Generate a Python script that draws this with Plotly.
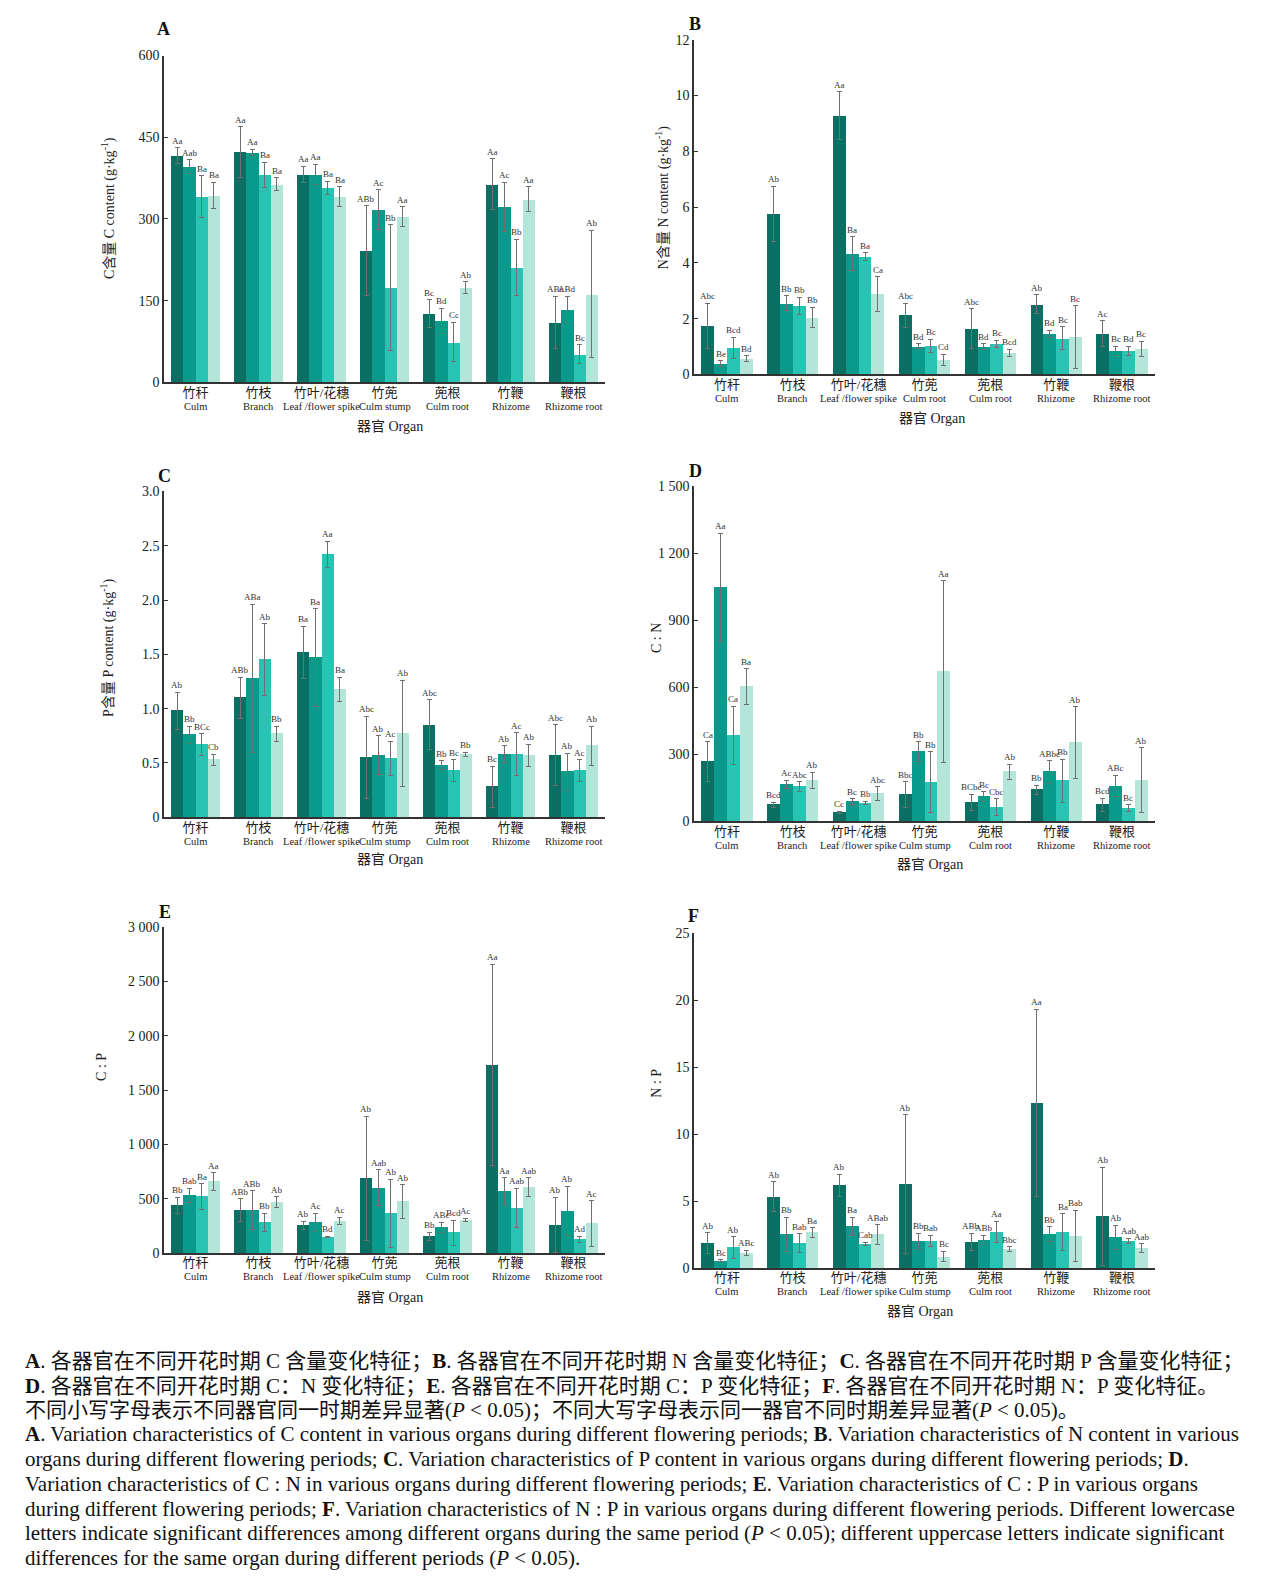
import plotly.graph_objects as go

W, H = 1262, 1588

organs_cn = ["竹秆", "竹枝", "竹叶/花穗", "竹蔸", "蔸根", "竹鞭", "鞭根"]
organs_en = ["Culm", "Branch", "Leaf /flower spike", "Culm stump", "Culm root", "Rhizome", "Rhizome root"]
organs_en_b = ["Culm", "Branch", "Leaf /flower spike", "Culm root", "Culm root", "Rhizome", "Rhizome root"]

periods = ["Period 1", "Period 2", "Period 3", "Period 4"]
colors = ["#0b6f64", "#0a9a8b", "#29c3b3", "#b3e6d9"]

# values[organ][period]
c_val = [[416, 396, 341, 343], [423, 422, 381, 364], [382, 382, 357, 341], [242, 317, 174, 304],
         [126, 113, 74, 174], [364, 322, 211, 336], [110, 133, 52, 162]]
c_sd = [[15, 13, 38, 24], [46, 6, 23, 12], [15, 18, 12, 18], [82, 37, 115, 18],
        [26, 23, 36, 11], [47, 45, 52, 23], [48, 25, 17, 117]]
c_lab = [["Aa", "Aab", "Ba", "Ba"], ["Aa", "Aa", "Ba", "Ba"], ["Aa", "Aa", "Ba", "Ba"], ["ABb", "Ac", "Bb", "Aa"],
         ["Bc", "Bd", "Cc", "Ab"], ["Aa", "Ac", "Bb", "Aa"], ["ABc", "ABd", "Bc", "Ab"]]

n_val = [[1.75, 0.39, 0.96, 0.58], [5.75, 2.55, 2.46, 2.05], [9.28, 4.32, 4.23, 2.88], [2.13, 1.01, 1.03, 0.53],
         [1.64, 1.00, 1.10, 0.78], [2.52, 1.45, 1.30, 1.34], [1.46, 0.84, 0.84, 0.92]]
n_sd = [[0.81, 0.10, 0.38, 0.10], [1.00, 0.27, 0.30, 0.36], [0.85, 0.61, 0.13, 0.62], [0.43, 0.09, 0.24, 0.19],
        [0.71, 0.10, 0.12, 0.12], [0.34, 0.13, 0.42, 1.12], [0.47, 0.17, 0.17, 0.28]]
n_lab = [["Abc", "Be", "Bcd", "Bd"], ["Ab", "Bb", "Bb", "Bb"], ["Aa", "Ba", "Ba", "Ca"], ["Abc", "Bd", "Bc", "Cd"],
         ["Abc", "Bd", "Bc", "Bcd"], ["Ab", "Bd", "Bc", "Bc"], ["Ac", "Bc", "Bd", "Bc"]]

p_val = [[0.98, 0.76, 0.67, 0.53], [1.10, 1.28, 1.45, 0.77], [1.52, 1.47, 2.42, 1.18], [0.55, 0.57, 0.54, 0.77],
         [0.85, 0.48, 0.43, 0.58], [0.28, 0.58, 0.58, 0.57], [0.57, 0.42, 0.43, 0.66]]
p_sd = [[0.17, 0.08, 0.10, 0.05], [0.19, 0.68, 0.33, 0.07], [0.24, 0.45, 0.12, 0.11], [0.38, 0.18, 0.16, 0.49],
        [0.23, 0.04, 0.10, 0.02], [0.19, 0.08, 0.20, 0.10], [0.28, 0.17, 0.10, 0.18]]
p_lab = [["Ab", "Bb", "BCc", "Cb"], ["ABb", "ABa", "Ab", "Bb"], ["Ba", "Ba", "Aa", "Ba"], ["Abc", "Ab", "Ac", "Ab"],
         ["Abc", "Bb", "Bc", "Bb"], ["Bc", "Ab", "Ac", "Ab"], ["Abc", "Ab", "Ac", "Ab"]]

cn_val = [[267, 1048, 385, 604], [74, 166, 155, 182], [40, 87, 81, 123], [120, 311, 176, 671],
          [84, 111, 64, 221], [141, 221, 181, 352], [74, 158, 59, 185]]
cn_sd = [[88, 242, 130, 79], [12, 18, 21, 37], [4, 14, 8, 32], [58, 44, 135, 407],
         [36, 22, 37, 35], [20, 50, 96, 162], [30, 49, 14, 145]]
cn_lab = [["Ca", "Aa", "Ca", "Ba"], ["Bcd", "Ac", "Abc", "Ab"], ["Cc", "Bc", "Bb", "Abc"], ["Bbc", "Bb", "Bb", "Aa"],
          ["BCbc", "Bc", "Cbc", "Ab"], ["Bb", "ABbc", "Bb", "Ab"], ["Bcd", "ABc", "Bc", "Ab"]]

cp_val = [[438, 532, 520, 660], [398, 398, 280, 471], [258, 283, 149, 295], [687, 602, 365, 474],
          [155, 237, 188, 304], [1733, 568, 416, 605], [261, 389, 128, 274]]
cp_sd = [[76, 67, 118, 79], [104, 176, 85, 49], [37, 82, 6, 33], [571, 167, 313, 155],
         [36, 46, 116, 15], [927, 125, 183, 88], [253, 228, 27, 209]]
cp_lab = [["Bb", "Bab", "Ba", "Aa"], ["ABb", "ABb", "Bb", "Ab"], ["Ab", "Ac", "Bd", "Ac"], ["Ab", "Aab", "Ab", "Ab"],
          ["Bb", "ABc", "Bcd", "Ac"], ["Aa", "Aa", "Aab", "Aab"], ["Ab", "Ab", "Ad", "Ac"]]

np_val = [[1.85, 0.54, 1.53, 1.13], [5.32, 2.51, 1.85, 2.64], [6.18, 3.10, 1.80, 2.51], [6.28, 1.97, 2.02, 0.84],
          [1.95, 2.09, 2.71, 1.40], [12.32, 2.54, 2.66, 2.39], [3.84, 2.29, 2.02, 1.48]]
np_sd = [[0.79, 0.08, 0.81, 0.20], [1.13, 1.26, 0.71, 0.36], [0.82, 0.67, 0.12, 0.72], [5.17, 0.62, 0.44, 0.39],
         [0.64, 0.37, 0.79, 0.20], [7.01, 0.54, 1.38, 1.92], [3.67, 0.91, 0.20, 0.32]]
np_lab = [["Ab", "Bc", "Ab", "ABc"], ["Ab", "Bb", "Bab", "Ba"], ["Ab", "Ba", "Cab", "ABab"], ["Ab", "Bb", "Bab", "Bc"],
          ["ABb", "ABb", "Aa", "Bbc"], ["Aa", "Bb", "Ba", "Bab"], ["Ab", "Ab", "Aab", "Aab"]]

a_ticks = [0, 150, 300, 450, 600]
b_ticks = [0, 2, 4, 6, 8, 10, 12]
c_ticks = [0, 0.5, 1.0, 1.5, 2.0, 2.5, 3.0]
c_ticktext = ["0", "0.5", "1.0", "1.5", "2.0", "2.5", "3.0"]
d_ticks = [0, 300, 600, 900, 1200, 1500]
d_ticktext = ["0", "300", "600", "900", "1 200", "1 500"]
e_ticks = [0, 500, 1000, 1500, 2000, 2500, 3000]
e_ticktext = ["0", "500", "1 000", "1 500", "2 000", "2 500", "3 000"]
f_ticks = [0, 5, 10, 15, 20, 25]

SERIF = "Liberation Serif, Noto Sans CJK SC, serif"

panels = [
    dict(letter="A", val=c_val, sd=c_sd, lab=c_lab, en=organs_en, ticks=a_ticks, ticktext=[str(t) for t in a_ticks],
         ymax=600, ytitle="C含量 C content (g·kg<sup>-1</sup>)",
         xpx=(164, 605), ypx=(49, 379), letter_pos=(163, 22), ytitle_pos=(108, 203), xtitle_pos=(390, 424)),
    dict(letter="B", val=n_val, sd=n_sd, lab=n_lab, en=organs_en_b, ticks=b_ticks, ticktext=[str(t) for t in b_ticks],
         ymax=12, ytitle="N含量 N content (g·kg<sup>-1</sup>)",
         xpx=(694, 1155), ypx=(33, 371), letter_pos=(695, 17), ytitle_pos=(662, 193), xtitle_pos=(932, 415)),
    dict(letter="C", val=p_val, sd=p_sd, lab=p_lab, en=organs_en, ticks=c_ticks, ticktext=c_ticktext,
         ymax=3.0, ytitle="P含量 P content (g·kg<sup>-1</sup>)",
         xpx=(164, 605), ypx=(489, 818), letter_pos=(164, 473), ytitle_pos=(108, 647), xtitle_pos=(390, 861)),
    dict(letter="D", val=cn_val, sd=cn_sd, lab=cn_lab, en=organs_en, ticks=d_ticks, ticktext=d_ticktext,
         ymax=1500, ytitle="C : N",
         xpx=(694, 1155), ypx=(484, 822), letter_pos=(695, 468), ytitle_pos=(657, 637), xtitle_pos=(930, 866)),
    dict(letter="E", val=cp_val, sd=cp_sd, lab=cp_lab, en=organs_en, ticks=e_ticks, ticktext=e_ticktext,
         ymax=3000, ytitle="C : P",
         xpx=(164, 605), ypx=(929, 1258), letter_pos=(165, 914), ytitle_pos=(102, 1070), xtitle_pos=(390, 1303)),
    dict(letter="F", val=np_val, sd=np_sd, lab=np_lab, en=organs_en, ticks=f_ticks, ticktext=[str(t) for t in f_ticks],
         ymax=25, ytitle="N : P",
         xpx=(694, 1155), ypx=(935, 1273), letter_pos=(693, 918), ytitle_pos=(657, 1087), xtitle_pos=(920, 1317)),
]


def px_x(x):
    return x / W


def px_y(y):
    return 1 - y / H


bar_w = 0.195
fig = go.Figure()
annotations = []
layout_axes = {}

for k, p in enumerate(panels):
    n = k + 1
    xa = "x" if n == 1 else f"x{n}"
    ya = "y" if n == 1 else f"y{n}"
    for j in range(4):
        xs = [i + (j - 1.5) * bar_w for i in range(len(organs_cn))]
        ys = [row[j] for row in p["val"]]
        es = [row[j] for row in p["sd"]]
        fig.add_trace(go.Bar(
            x=xs, y=ys, width=bar_w, name=periods[j], marker=dict(color=colors[j], line=dict(width=0)),
            error_y=dict(type="data", array=es, visible=True, color="#707070", thickness=1, width=2.5),
            xaxis=xa, yaxis=ya, showlegend=False))
        for i in range(len(organs_cn)):
            annotations.append(dict(
                x=xs[i], y=ys[i] + es[i], xref=xa, yref=ya, text=p["lab"][i][j], showarrow=False,
                xanchor="center", yanchor="bottom", yshift=0,
                font=dict(family=SERIF, size=9, color="#333333")))
    # English organ names under the Chinese tick labels
    en_y = p["ypx"][1] + 24
    for i, en in enumerate(p["en"]):
        annotations.append(dict(x=i, y=px_y(en_y), xref=xa, yref="paper", text=en, showarrow=False,
                                xanchor="center", yanchor="middle",
                                font=dict(family=SERIF, size=10.5, color="#222222")))
    layout_axes["xaxis" if n == 1 else f"xaxis{n}"] = dict(
        domain=[px_x(p["xpx"][0]), px_x(p["xpx"][1])], anchor=ya, range=[-0.5, 6.5],
        tickmode="array", tickvals=list(range(len(organs_cn))), ticktext=organs_cn, tickangle=0,
        ticklabelstandoff=-3,
        showline=True, linecolor="#333333", linewidth=1.5, ticks="", showgrid=False, zeroline=False,
        tickfont=dict(family=SERIF, size=13, color="#222222"), fixedrange=True)
    layout_axes["yaxis" if n == 1 else f"yaxis{n}"] = dict(
        domain=[px_y(p["ypx"][1]), px_y(p["ypx"][0])], anchor=xa, range=[0, p["ymax"]],
        tickmode="array", tickvals=p["ticks"], ticktext=p["ticktext"],
        showline=True, linecolor="#333333", linewidth=1.5, ticks="inside", ticklen=4, tickcolor="#333333",
        showgrid=False, zeroline=False, tickfont=dict(family=SERIF, size=14, color="#222222"), fixedrange=True)
    lx, ly = p["letter_pos"]
    annotations.append(dict(x=px_x(lx), y=px_y(ly), xref="paper", yref="paper", text=f"<b>{p['letter']}</b>",
                            showarrow=False, xanchor="center", yanchor="middle",
                            font=dict(family=SERIF, size=18, color="#111111")))
    tx, ty = p["ytitle_pos"]
    annotations.append(dict(x=px_x(tx), y=px_y(ty), xref="paper", yref="paper", text=p["ytitle"],
                            showarrow=False, textangle=-90, xanchor="center", yanchor="middle",
                            font=dict(family=SERIF, size=14, color="#222222")))
    ox, oy = p["xtitle_pos"]
    annotations.append(dict(x=px_x(ox), y=px_y(oy), xref="paper", yref="paper", text="器官 Organ",
                            showarrow=False, xanchor="center", yanchor="middle",
                            font=dict(family=SERIF, size=14, color="#222222")))

caption_cn = [
    "<b>A</b>. 各器官在不同开花时期 C 含量变化特征；<b>B</b>. 各器官在不同开花时期 N 含量变化特征；<b>C</b>. 各器官在不同开花时期 P 含量变化特征；",
    "<b>D</b>. 各器官在不同开花时期 C：N 变化特征；<b>E</b>. 各器官在不同开花时期 C：P 变化特征；<b>F</b>. 各器官在不同开花时期 N：P 变化特征。",
    "不同小写字母表示不同器官同一时期差异显著(<i>P</i> &lt; 0.05)；不同大写字母表示同一器官不同时期差异显著(<i>P</i> &lt; 0.05)。",
]
caption_en = [
    "<b>A</b>. Variation characteristics of C content in various organs during different flowering periods; <b>B</b>. Variation characteristics of N content in various",
    "organs during different flowering periods; <b>C</b>. Variation characteristics of P content in various organs during different flowering periods; <b>D</b>.",
    "Variation characteristics of C : N in various organs during different flowering periods; <b>E</b>. Variation characteristics of C : P in various organs",
    "during different flowering periods; <b>F</b>. Variation characteristics of N : P in various organs during different flowering periods. Different lowercase",
    "letters indicate significant differences among different organs during the same period (<i>P</i> &lt; 0.05); different uppercase letters indicate significant",
    "differences for the same organ during different periods (<i>P</i> &lt; 0.05).",
]
cap_y = [1367, 1392, 1416, 1441, 1466, 1491, 1516, 1541, 1566]
for idx, line in enumerate(caption_cn + caption_en):
    annotations.append(dict(x=px_x(23), y=px_y(cap_y[idx]), xref="paper", yref="paper", text=line,
                            showarrow=False, xanchor="left", yanchor="middle", align="left",
                            font=dict(family=SERIF, size=21, color="#111111")))

fig.update_layout(
    width=W, height=H, autosize=False,
    margin=dict(l=0, r=0, t=0, b=0),
    paper_bgcolor="white", plot_bgcolor="white",
    barmode="overlay", bargap=0,
    showlegend=False,
    annotations=annotations,
    font=dict(family=SERIF),
    **layout_axes,
)

fig.write_html("out.html", config={"displayModeBar": False},
               post_script="document.body.style.margin='0px';document.body.style.overflow='hidden';")
